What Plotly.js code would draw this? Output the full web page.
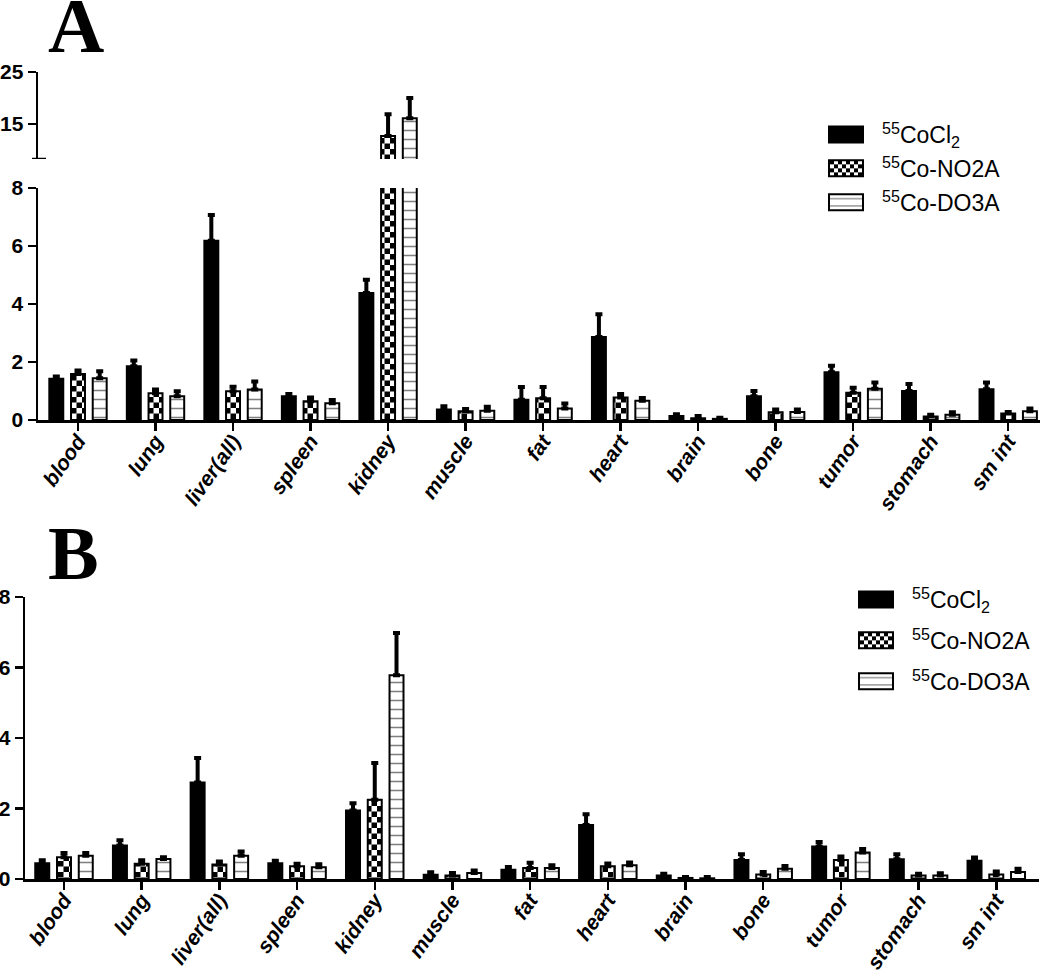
<!DOCTYPE html>
<html>
<head>
<meta charset="utf-8">
<script src="https://cdn.plot.ly/plotly-3.0.1.min.js"></script>
<style>html,body{margin:0;padding:0;background:#fff;}#chart{width:1050px;height:974px;}</style>
</head>
<body>
<div id="chart"></div>
<script>
// ---- data ----
const organs = ['blood','lung','liver(all)','spleen','kidney','muscle','fat','heart','brain','bone','tumor','stomach','sm int'];
const seriesNames = ['<sup>55</sup>CoCl<sub>2</sub>', '<sup>55</sup>Co-NO2A', '<sup>55</sup>Co-DO3A'];

// Panel A
const cocl2A     = [1.42, 1.85, 6.18, 0.82, 4.38, 0.36, 0.70, 2.86, 0.14, 0.82, 1.65, 1.00, 1.06];
const cocl2A_err = [0.08, 0.20, 0.89, 0.08, 0.46, 0.11, 0.44, 0.79, 0.06, 0.18, 0.22, 0.24, 0.23];
const no2aA      = [1.59, 0.92, 0.99, 0.65, 12.7, 0.30, 0.75, 0.78, 0.06, 0.27, 0.94, 0.12, 0.22];
const no2aA_err  = [0.12, 0.13, 0.16, 0.13, 4.20, 0.08, 0.39, 0.12, 0.08, 0.09, 0.17, 0.06, 0.06];
const do3aA      = [1.44, 0.82, 1.05, 0.58, 16.1, 0.32, 0.40, 0.66, 0.04, 0.28, 1.08, 0.18, 0.30];
const do3aA_err  = [0.24, 0.17, 0.28, 0.11, 3.90, 0.14, 0.17, 0.10, 0.04, 0.08, 0.21, 0.09, 0.10];

// Panel B
const cocl2B     = [0.45, 0.95, 2.74, 0.45, 1.94, 0.12, 0.26, 1.53, 0.10, 0.54, 0.92, 0.56, 0.52];
const cocl2B_err = [0.08, 0.15, 0.69, 0.07, 0.21, 0.07, 0.08, 0.31, 0.05, 0.16, 0.13, 0.14, 0.09];
const no2aB      = [0.62, 0.43, 0.41, 0.36, 2.25, 0.10, 0.31, 0.36, 0.03, 0.13, 0.54, 0.10, 0.13];
const no2aB_err  = [0.12, 0.10, 0.09, 0.07, 1.04, 0.07, 0.15, 0.08, 0.03, 0.07, 0.10, 0.05, 0.08];
const do3aB      = [0.66, 0.57, 0.66, 0.33, 5.78, 0.17, 0.31, 0.39, 0.02, 0.29, 0.75, 0.10, 0.20];
const do3aB_err  = [0.08, 0.05, 0.12, 0.09, 1.20, 0.07, 0.08, 0.08, 0.04, 0.08, 0.10, 0.06, 0.09];

const yTicksA_low = [0, 2, 4, 6, 8];
const yTicksA_high = [15, 25];
const yTicksB = [0, 2, 4, 6, 8];

// ---- styles ----
const styles = [
  {color: 'black', line: {color: 'black', width: 2}},
  {color: 'white', line: {color: 'black', width: 2},
   pattern: {shape: '.', fgcolor: 'black', bgcolor: 'white', fillmode: 'overlay', size: 11, solidity: 0.5}},
  {color: 'white', line: {color: 'black', width: 2},
   pattern: {shape: '-', fgcolor: 'black', bgcolor: 'white', fillmode: 'overlay', size: 9, solidity: 0.17}}
];

function mkTrace(i, y, err, xa, ya, legendName, show) {
  return {
    type: 'bar', x: organs, y: y, name: seriesNames[i],
    xaxis: xa, yaxis: ya,
    marker: styles[i],
    error_y: {type: 'data', symmetric: false, array: err, color: 'black', thickness: 4, width: 3.5},
    showlegend: show, legend: legendName, legendgroup: legendName + i,
    hoverinfo: 'x+y'
  };
}

const data = [
  mkTrace(0, cocl2A, cocl2A_err, 'x', 'y', 'legend', true),
  mkTrace(1, no2aA, no2aA_err, 'x', 'y', 'legend', true),
  mkTrace(2, do3aA, do3aA_err, 'x', 'y', 'legend', true),
  mkTrace(0, cocl2A, cocl2A_err, 'x', 'y2', 'legend', false),
  mkTrace(1, no2aA, no2aA_err, 'x', 'y2', 'legend', false),
  mkTrace(2, do3aA, do3aA_err, 'x', 'y2', 'legend', false),
  mkTrace(0, cocl2B, cocl2B_err, 'x2', 'y3', 'legend2', true),
  mkTrace(1, no2aB, no2aB_err, 'x2', 'y3', 'legend2', true),
  mkTrace(2, do3aB, do3aB_err, 'x2', 'y3', 'legend2', true)
];

const H = 974, W = 1050;
const py = p => 1 - p / H;
const px = p => p / W;

const tickFontY = {family: 'Liberation Sans, Arial, sans-serif', size: 21, color: 'black', weight: 'bold'};
const tickFontX = {family: 'Liberation Sans, Arial, sans-serif', size: 21, color: 'black', weight: 'bold', style: 'italic'};
const yCommon = {showline: true, linecolor: 'black', linewidth: 2.5, ticks: 'outside', ticklen: 8, tickwidth: 2.5,
  tickcolor: 'black', showgrid: false, zeroline: false, tickfont: tickFontY, tickmode: 'array', fixedrange: true};
const xCommon = {type: 'category', showline: true, linecolor: 'black', linewidth: 2.5, ticks: 'outside', ticklen: 8,
  tickwidth: 2.5, tickcolor: 'black', showgrid: false, zeroline: false, tickangle: -55, tickfont: tickFontX,
  ticklabelstandoff: -10, fixedrange: true};

const legendFont = {family: 'Liberation Sans, Arial, sans-serif', size: 23, color: 'black'};

const layout = {
  width: W, height: H,
  margin: {l: 0, r: 0, t: 0, b: 0},
  paper_bgcolor: 'white', plot_bgcolor: 'white',
  barmode: 'group', bargap: 0.16, bargroupgap: 0.357,
  xaxis: Object.assign({}, xCommon, {domain: [px(38), px(1040)], range: [-0.516, 12.41], anchor: 'y'}),
  yaxis: Object.assign({}, yCommon, {domain: [py(420), py(188)], range: [0, 8], tickvals: yTicksA_low, anchor: 'x'}),
  yaxis2: Object.assign({}, yCommon, {domain: [py(159), py(72)], range: [8.3, 25], tickvals: yTicksA_high, anchor: 'x'}),
  xaxis2: Object.assign({}, xCommon, {domain: [px(25), px(1039)], range: [-0.502, 12.55], anchor: 'y3'}),
  yaxis3: Object.assign({}, yCommon, {domain: [py(879), py(597)], range: [0, 8], tickvals: yTicksB, anchor: 'x2'}),
  legend: {x: px(842), y: py(113), xanchor: 'left', yanchor: 'top', font: legendFont, bgcolor: 'rgba(0,0,0,0)',
    traceorder: 'grouped', tracegroupgap: 1},
  legend2: {x: px(872), y: py(578), xanchor: 'left', yanchor: 'top', font: legendFont, bgcolor: 'rgba(0,0,0,0)',
    traceorder: 'grouped', tracegroupgap: 8},
  shapes: [
    {type: 'line', xref: 'paper', yref: 'y2', x0: px(32), x1: px(46), y0: 8.3, y1: 8.3,
     line: {color: 'black', width: 2.5}}
  ],
  annotations: [
    {text: '<b>A</b>', xref: 'paper', yref: 'paper', x: px(46), y: py(-20), xanchor: 'left', yanchor: 'top',
     showarrow: false, font: {family: 'Liberation Serif, Times New Roman, serif', size: 78, color: 'black'}},
    {text: '<b>B</b>', xref: 'paper', yref: 'paper', x: px(46), y: py(509), xanchor: 'left', yanchor: 'top',
     showarrow: false, font: {family: 'Liberation Serif, Times New Roman, serif', size: 76, color: 'black'}}
  ]
};

const NS = 'http://www.w3.org/2000/svg';
function touchUp() {
  // checkerboard tiles for the NO2A pattern
  document.querySelectorAll('pattern').forEach(function (p) {
    const c = p.querySelector('circle');
    if (!c) return;
    const s = parseFloat(p.getAttribute('width')) || 11;
    c.remove();
    [[0, 0], [s / 2, s / 2]].forEach(function (o) {
      const r = document.createElementNS(NS, 'rect');
      r.setAttribute('x', o[0]); r.setAttribute('y', o[1]);
      r.setAttribute('width', s / 2); r.setAttribute('height', s / 2);
      r.setAttribute('fill', 'black');
      p.appendChild(r);
    });
  });
  // let the larger swatches show outside the legend's clip box
  document.querySelectorAll('g.scrollbox').forEach(function (el) { el.removeAttribute('clip-path'); });
  // larger legend swatches like the original
  document.querySelectorAll('g.legendpoints path').forEach(function (el) {
    if (el.getAttribute('data-big')) return;
    el.setAttribute('d', 'M1,8H-33V-8H1Z');
    el.setAttribute('data-big', '1');
  });
}

const gd = document.getElementById('chart');
Plotly.newPlot(gd, data, layout, {displayModeBar: false, staticPlot: true}).then(function () {
  touchUp();
  gd.on('plotly_afterplot', touchUp);
  [0, 30, 100, 300, 800, 1500].forEach(function (t) { setTimeout(touchUp, t); });
});
</script>
</body>
</html>
